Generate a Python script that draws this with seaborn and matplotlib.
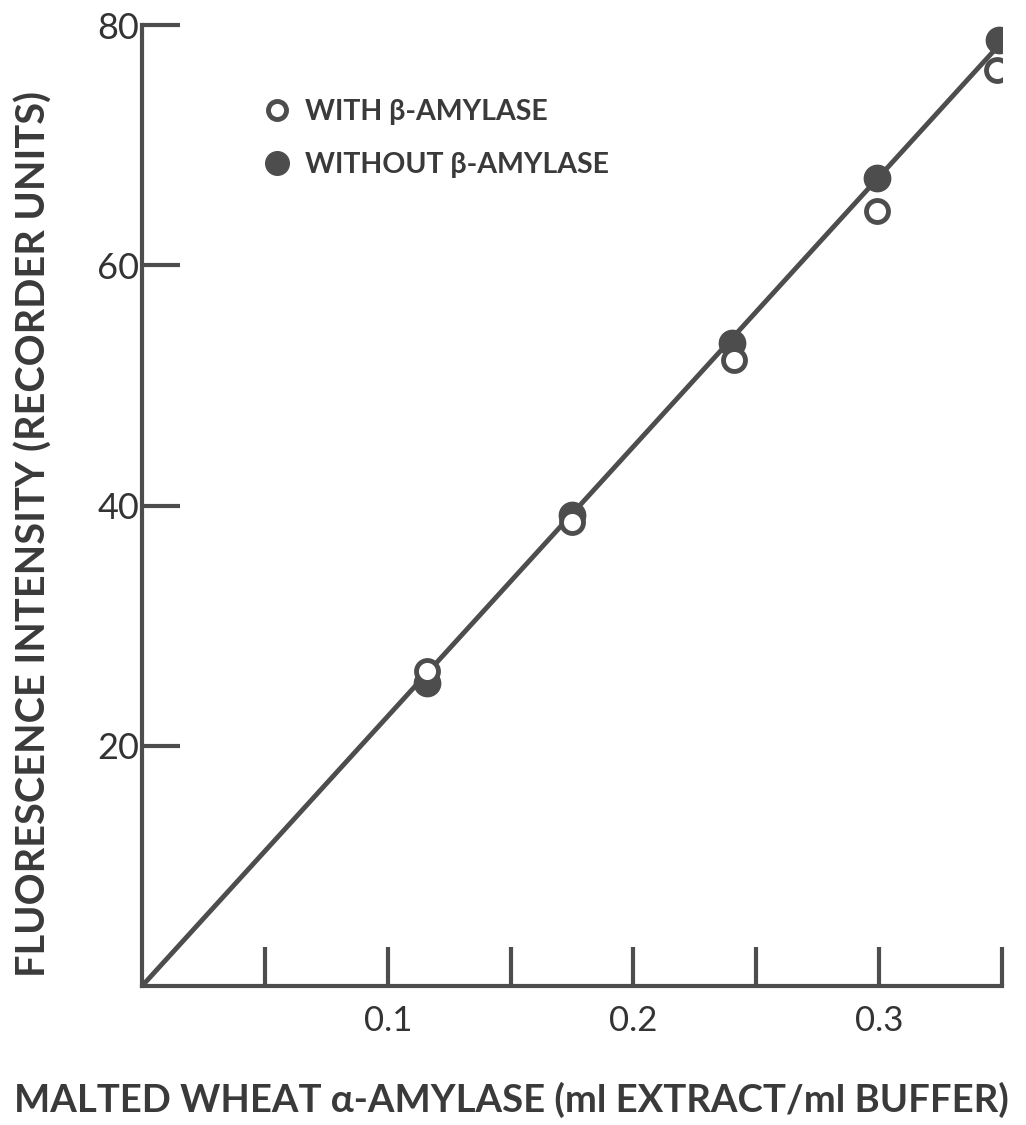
import matplotlib
matplotlib.use("Agg")
import matplotlib.pyplot as plt
from matplotlib.lines import Line2D
import seaborn as sns
import pandas as pd

# data
conc_with = [0.116, 0.175, 0.241, 0.299, 0.348]
fluor_with = [26.2, 38.6, 52.1, 64.5, 76.3]
conc_without = [0.116, 0.175, 0.240, 0.299, 0.349]
fluor_without = [25.2, 39.2, 53.5, 67.3, 78.8]
fit_x = [0.0, 0.35]
fit_y = [0.0, 78.6]

x_ticks = [0.05, 0.1, 0.15, 0.2, 0.25, 0.3, 0.35]
x_ticklabels = ['', '0.1', '', '0.2', '', '0.3', '']
y_ticks = [20, 40, 60, 80]

ink = '#4d4d4d'

sns.set_style('white')
plt.rcParams['font.family'] = ['Lato', 'DejaVu Sans']

df_with = pd.DataFrame({'conc': conc_with, 'fluor': fluor_with})
df_without = pd.DataFrame({'conc': conc_without, 'fluor': fluor_without})
df_fit = pd.DataFrame({'conc': fit_x, 'fluor': fit_y})

fig = plt.figure(figsize=(10.26, 11.25), dpi=100)
ax = fig.add_axes([0.1385, 0.1236, 0.838, 0.854])

sns.lineplot(data=df_fit, x='conc', y='fluor', ax=ax, color=ink, lw=3.5, zorder=2)
sns.scatterplot(data=df_without, x='conc', y='fluor', ax=ax, s=360, color=ink,
                edgecolor=ink, linewidth=1, zorder=3)
sns.scatterplot(data=df_with, x='conc', y='fluor', ax=ax, s=250, facecolor='white',
                edgecolor=ink, linewidth=3.5, zorder=4)

ax.set_xlim(0, 0.35)
ax.set_ylim(0, 80)
ax.set_xticks(x_ticks)
ax.set_xticklabels(x_ticklabels)
ax.set_yticks(y_ticks)

for side in ['top', 'right']:
    ax.spines[side].set_visible(False)
for side in ['left', 'bottom']:
    ax.spines[side].set_color(ink)
    ax.spines[side].set_linewidth(3)

ax.tick_params(axis='x', bottom=True, direction='in', length=28, width=3, color=ink,
               labelsize=25, labelcolor='#333333', pad=14)
ax.tick_params(axis='y', left=True, direction='in', length=27, width=3, color=ink,
               labelsize=26, labelcolor='#333333', pad=2)

ax.set_xlabel('MALTED WHEAT α-AMYLASE (ml EXTRACT/ml BUFFER)', fontsize=27.5,
              fontweight='bold', color='#3a3a3a')
ax.set_ylabel('FLUORESCENCE INTENSITY (RECORDER UNITS)', fontsize=28.5,
              fontweight='bold', color='#3a3a3a')
# the labels sit centred on the page, not on the axes
ax.xaxis.set_label_coords(0.43, -0.100)
ax.yaxis.set_label_coords(-0.104, 0.47)

handles = [
    Line2D([], [], linestyle='none', marker='o', markersize=13, markerfacecolor='white',
           markeredgecolor=ink, markeredgewidth=3.5),
    Line2D([], [], linestyle='none', marker='o', markersize=17, markerfacecolor=ink,
           markeredgecolor=ink),
]
ax.legend(handles, ['WITH β-AMYLASE', 'WITHOUT β-AMYLASE'], loc='upper left',
          bbox_to_anchor=(0.11, 0.95), frameon=False,
          handletextpad=0.5, labelspacing=0.95, handlelength=1.0,
          prop={'weight': 'bold', 'size': 20.5})
for t in ax.get_legend().get_texts():
    t.set_color('#3a3a3a')

fig.savefig('out.png', dpi=100)
